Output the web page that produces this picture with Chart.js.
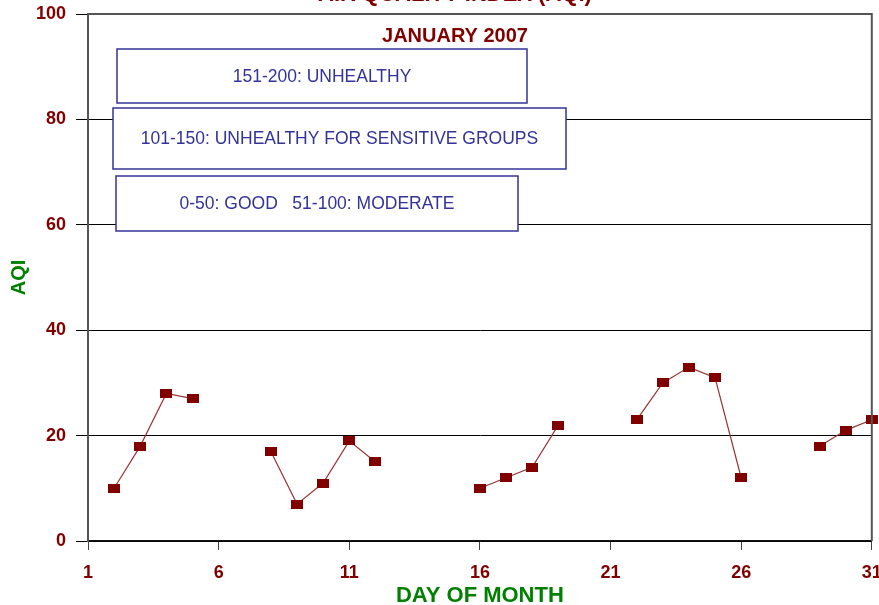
<!DOCTYPE html>
<html>
<head>
<meta charset="utf-8">
<title>Air Quality Index - January 2007</title>
<script src="https://cdn.jsdelivr.net/npm/chart.js@4.4.1/dist/chart.umd.min.js"></script>
<style>
  html, body { margin: 0; padding: 0; background: #fff; }
  #wrap { width: 879px; height: 605px; }
</style>
</head>
<body>
<div id="wrap"><canvas id="aqi-chart" width="879" height="605"></canvas></div>
<script>
const days = [1, 2, 3, 4, 5, 6, 7, 8, 9, 10, 11, 12, 13, 14, 15, 16,
              17, 18, 19, 20, 21, 22, 23, 24, 25, 26, 27, 28, 29, 30, 31];
const aqi = [null, 10, 18, 28, 27, null, null, 17, 7, 11, 19, 15, null, null, null, 10,
             12, 14, 22, null, null, 23, 30, 33, 31, 12, null, null, 18, 21, 23];
const xTicks = [1, 6, 11, 16, 21, 26, 31];
const yTicks = [0, 20, 40, 60, 80, 100];
const bandLabels = [
    '151-200: UNHEALTHY',
    '101-150: UNHEALTHY FOR SENSITIVE GROUPS',
    '0-50: GOOD   51-100: MODERATE'
];

const FONT = "'Liberation Sans', Arial, sans-serif";
const DARK_RED = '#800000';
const GREEN = '#008000';
const BAND_BLUE = '#333399';

// little flat rectangle marker, like the original
const marker = document.createElement('canvas');
marker.width = 12;
marker.height = 9;
const mctx = marker.getContext('2d');
mctx.fillStyle = DARK_RED;
mctx.fillRect(0, 0, 12, 9);

// box positions (pixels) for the AQI category notes
const bandBoxes = [
    { x: 117, y: 49, w: 410, h: 54 },
    { x: 113, y: 108, w: 453, h: 61 },
    { x: 116, y: 176, w: 402, h: 55 }
];

const decorations = {
    id: 'decorations',
    afterDraw(chart) {
        const ctx = chart.ctx;
        const area = chart.chartArea;
        ctx.save();

        // top and right frame
        ctx.strokeStyle = '#555';
        ctx.lineWidth = 2;
        ctx.beginPath();
        ctx.moveTo(area.left, area.top);
        ctx.lineTo(area.right, area.top);
        ctx.lineTo(area.right, area.bottom);
        ctx.stroke();

        // titles (main one is cut off by the top edge, as in the original)
        ctx.fillStyle = DARK_RED;
        ctx.textAlign = 'center';
        ctx.textBaseline = 'alphabetic';
        ctx.font = 'bold 22px ' + FONT;
        ctx.fillText('AIR QUALITY INDEX (AQI)', 455, 1);
        ctx.font = 'bold 20px ' + FONT;
        ctx.fillText('JANUARY 2007', 455, 42);

        // category notes
        ctx.font = '17.5px ' + FONT;
        ctx.textBaseline = 'middle';
        bandBoxes.forEach((b, i) => {
            ctx.fillStyle = '#fff';
            ctx.fillRect(b.x, b.y, b.w, b.h);
            ctx.strokeStyle = BAND_BLUE;
            ctx.lineWidth = 1.5;
            ctx.strokeRect(b.x, b.y, b.w, b.h);
            ctx.fillStyle = BAND_BLUE;
            ctx.fillText(bandLabels[i], b.x + b.w / 2, b.y + b.h / 2 + 1);
        });
        ctx.restore();
    }
};

const points = days.map((d, i) => ({ x: d, y: aqi[i] }));

new Chart(document.getElementById('aqi-chart'), {
    type: 'line',
    data: {
        datasets: [{
            label: 'AQI',
            data: points,
            borderColor: '#993333',
            borderWidth: 1.2,
            pointStyle: marker,
            pointRadius: 6,
            pointHoverRadius: 6,
            spanGaps: false,
            tension: 0,
            clip: false
        }]
    },
    options: {
        responsive: false,
        animation: false,
        events: [],
        layout: { padding: { top: 14, right: 5, left: 0, bottom: 0 } },
        plugins: {
            legend: { display: false },
            tooltip: { enabled: false }
        },
        scales: {
            x: {
                type: 'linear',
                min: 1,
                max: 31,
                afterBuildTicks(scale) {
                    scale.ticks = xTicks.map(v => ({ value: v }));
                },
                afterFit(scale) {
                    scale.height = 64;
                    scale.paddingLeft = 0;
                    scale.paddingRight = 0;
                },
                grid: {
                    drawOnChartArea: false,
                    drawTicks: true,
                    tickLength: 9,
                    color: '#444'
                },
                border: { color: '#111', width: 1.5 },
                ticks: {
                    color: DARK_RED,
                    padding: 12,
                    maxRotation: 0,
                    font: { family: FONT, size: 18, weight: 'bold' }
                },
                title: {
                    display: true,
                    text: 'DAY OF MONTH',
                    color: GREEN,
                    font: { family: FONT, size: 22, weight: 'bold' },
                    padding: { top: 0, bottom: -4 }
                }
            },
            y: {
                min: 0,
                max: 100,
                afterBuildTicks(scale) {
                    scale.ticks = yTicks.map(v => ({ value: v }));
                },
                afterFit(scale) {
                    scale.width = 88;
                    scale.paddingTop = 0;
                    scale.paddingBottom = 0;
                },
                grid: {
                    color: ctx => ctx.tick && ctx.tick.value === 100 ? '#555' : '#000',
                    tickColor: '#000',
                    tickLength: 12,
                    lineWidth: 1
                },
                border: { color: '#555', width: 2 },
                ticks: {
                    color: DARK_RED,
                    padding: 10,
                    font: { family: FONT, size: 18, weight: 'bold' }
                },
                title: {
                    display: true,
                    text: 'AQI',
                    color: GREEN,
                    font: { family: FONT, size: 20, weight: 'bold' },
                    padding: { top: 7, bottom: 0 }
                }
            }
        }
    },
    plugins: [decorations]
});
</script>
</body>
</html>
